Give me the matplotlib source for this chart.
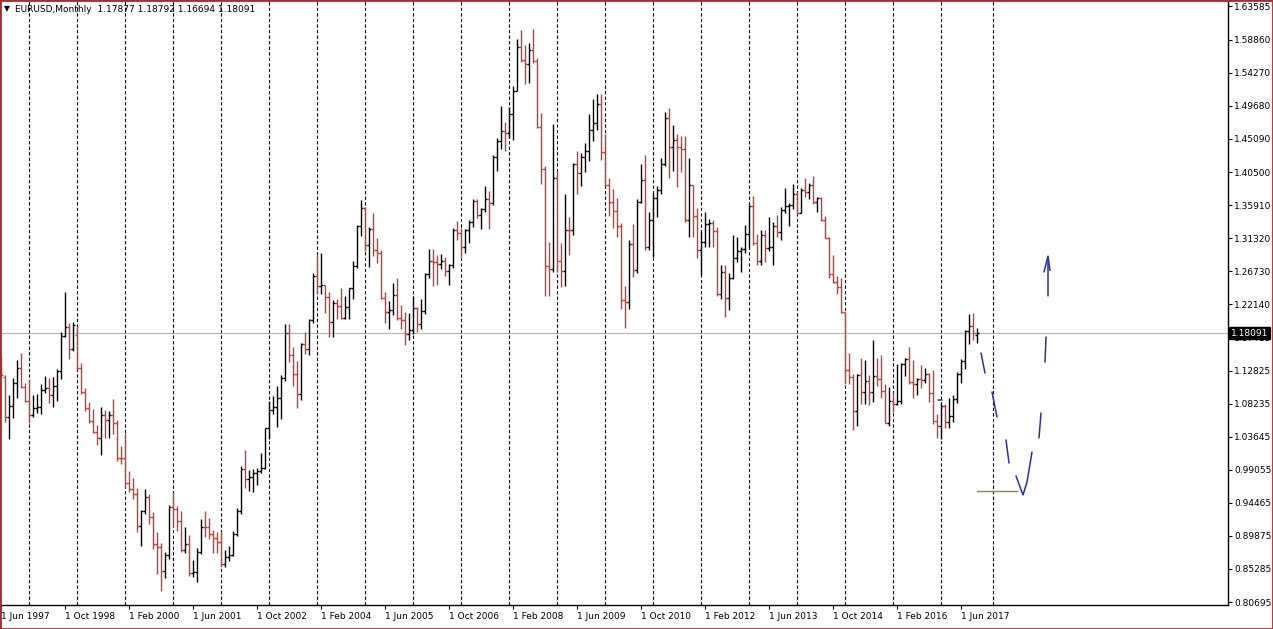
import numpy as np
import matplotlib
matplotlib.use('Agg')
import matplotlib.pyplot as plt
from matplotlib.collections import LineCollection
from matplotlib.patches import Rectangle

# EURUSD monthly bars, first bar = Jun 1997, last = Oct 2017 (partial)
bar_open = [
    1.1450, 1.1204, 1.0638, 1.0796, 1.1111, 1.1320, 1.1064,
    1.0870, 1.0670, 1.0763, 1.0777, 1.1018, 1.1040, 1.0949, 1.1074, 1.1287, 1.1769, 1.1890, 1.1584,
    1.1789, 1.1320, 1.0991, 1.0766, 1.0586, 1.0429, 1.0350, 1.0677, 1.0597, 1.0676, 1.0557, 1.0071,
    1.0070, 0.9724, 0.9645, 0.9574, 0.9120, 0.9335, 0.9523, 0.9255, 0.8883, 0.8828, 0.8494, 0.8722,
    0.9388, 0.9359, 0.9202, 0.8787, 0.8876, 0.8466, 0.8480, 0.8762, 0.9116, 0.9115, 0.9010, 0.8961,
    0.8901, 0.8598, 0.8697, 0.8721, 0.9016, 0.9338, 0.9914, 0.9774, 0.9808, 0.9862, 0.9887, 0.9930,
    1.0487, 1.0737, 1.0785, 1.0907, 1.1180, 1.1808, 1.1507, 1.1240, 1.0964, 1.1656, 1.1593, 1.1987,
    1.2597, 1.2470, 1.2478, 1.2316, 1.1965, 1.2222, 1.2191, 1.2025, 1.2176, 1.2436, 1.2749, 1.3298,
    1.3554, 1.3036, 1.3254, 1.2963, 1.2923, 1.2298, 1.2103, 1.2127, 1.2335, 1.2025, 1.1995, 1.1792,
    1.1849, 1.2154, 1.1933, 1.2117, 1.2625, 1.2811, 1.2793, 1.2764, 1.2811, 1.2668, 1.2762, 1.3242,
    1.3197, 1.3011, 1.3237, 1.3358, 1.3653, 1.3452, 1.3530, 1.3680, 1.3618, 1.4263, 1.4480, 1.4623,
    1.4590, 1.4862, 1.5176, 1.5792, 1.5609, 1.5548, 1.5751, 1.5598, 1.4670, 1.4085, 1.2740, 1.2697,
    1.3973, 1.2809, 1.2674, 1.3249, 1.3238, 1.4158, 1.4031, 1.4252, 1.4342, 1.4636, 1.4725, 1.4995,
    1.4326, 1.3867, 1.3627, 1.3509, 1.3293, 1.2270, 1.2238, 1.3048, 1.2683, 1.3632, 1.3942, 1.3003,
    1.3384, 1.3693, 1.3802, 1.4164, 1.4804, 1.4392, 1.4500, 1.4394, 1.4374, 1.3388, 1.3867, 1.3444,
    1.2961, 1.3081, 1.3324, 1.3340, 1.3234, 1.2357, 1.2663, 1.2302, 1.2576, 1.2858, 1.2955, 1.2986,
    1.3193, 1.3580, 1.3058, 1.2818, 1.3170, 1.2999, 1.3010, 1.3302, 1.3221, 1.3525, 1.3584, 1.3590,
    1.3743, 1.3486, 1.3802, 1.3772, 1.3870, 1.3634, 1.3691, 1.3389, 1.3131, 1.2628, 1.2525, 1.2452,
    1.2098, 1.1291, 1.1196, 1.0731, 1.1224, 1.0986, 1.1146, 1.0984, 1.1211, 1.1176, 1.1005, 1.0566,
    1.0862, 1.0830, 1.0872, 1.1380, 1.1452, 1.1131, 1.1105, 1.1175, 1.1158, 1.1241, 1.0980, 1.0588,
    1.0516, 1.0797, 1.0575, 1.0652, 1.0895, 1.1243, 1.1426, 1.1840, 1.1908, 1.17877,
]
bar_high = [
    1.1480, 1.1227, 1.0949, 1.1180, 1.1435, 1.1537, 1.1111,
    1.1166, 1.0949, 1.0962, 1.1102, 1.1213, 1.1180, 1.1204, 1.1306, 1.1829, 1.2386, 1.1945, 1.1969,
    1.1906, 1.1393, 1.1052, 1.0855, 1.0755, 1.0534, 1.0777, 1.0736, 1.0720, 1.0890, 1.0600, 1.0235,
    1.0414, 0.9895, 0.9788, 0.9656, 0.9348, 0.9647, 0.9570, 0.9326, 0.9050, 0.8890, 0.8758, 0.9420,
    0.9596, 0.9409, 0.9338, 0.9108, 0.8996, 0.8652, 0.8826, 0.9230, 0.9335, 0.9232, 0.9070, 0.9040,
    0.9051, 0.8799, 0.8850, 0.9053, 0.9375, 0.9957, 1.0185, 0.9900, 0.9920, 0.9930, 1.0140, 1.0496,
    1.0860, 1.0935, 1.1080, 1.1230, 1.1933, 1.1932, 1.1620, 1.1428, 1.1672, 1.1830, 1.2000, 1.2650,
    1.2900, 1.2930, 1.2480, 1.2375, 1.2275, 1.2285, 1.2440, 1.2330, 1.2440, 1.2810, 1.3310, 1.3666,
    1.3570, 1.3290, 1.3480, 1.3130, 1.2970, 1.2380, 1.2260, 1.2500, 1.2570, 1.2200, 1.2100, 1.2090,
    1.2330, 1.2170, 1.2290, 1.2640, 1.2980, 1.2980, 1.2890, 1.2910, 1.2870, 1.2770, 1.3270, 1.3370,
    1.3270, 1.3260, 1.3380, 1.3680, 1.3680, 1.3550, 1.3850, 1.3790, 1.4280, 1.4520, 1.4967, 1.4750,
    1.4960, 1.5240, 1.5905, 1.6019, 1.5820, 1.5840, 1.6038, 1.5630, 1.4870, 1.4130, 1.3080, 1.4720,
    1.4070, 1.3060, 1.3740, 1.3430, 1.4170, 1.4340, 1.4310, 1.4450, 1.4860, 1.5060, 1.5140, 1.5140,
    1.4580, 1.3970, 1.3820, 1.3690, 1.3340, 1.2460, 1.3110, 1.3330, 1.3680, 1.4160, 1.4280, 1.3500,
    1.3760, 1.3860, 1.4250, 1.4880, 1.4940, 1.4700, 1.4580, 1.4550, 1.4550, 1.4250, 1.3870, 1.3550,
    1.3230, 1.3490, 1.3390, 1.3380, 1.3280, 1.2750, 1.2750, 1.2640, 1.3170, 1.3140, 1.3010, 1.3310,
    1.3590, 1.3710, 1.3190, 1.3240, 1.3240, 1.3420, 1.3350, 1.3450, 1.3570, 1.3830, 1.3620, 1.3890,
    1.3775, 1.3830, 1.3970, 1.3900, 1.3995, 1.3700, 1.3700, 1.3440, 1.3140, 1.2890, 1.2600, 1.2570,
    1.2100, 1.1530, 1.1240, 1.1240, 1.1470, 1.1440, 1.1220, 1.1715, 1.1460, 1.1500, 1.1100, 1.1060,
    1.0990, 1.1380, 1.1400, 1.1460, 1.1620, 1.1430, 1.1190, 1.1370, 1.1330, 1.1260, 1.1300, 1.0680,
    1.0830, 1.0830, 1.0900, 1.0950, 1.1270, 1.1450, 1.1850, 1.2070, 1.2090, 1.18792,
]
bar_low = [
    1.1200, 1.0578, 1.0332, 1.0624, 1.0902, 1.1041, 1.0856,
    1.0555, 1.0647, 1.0703, 1.0684, 1.0972, 1.0842, 1.0777, 1.0870, 1.1166, 1.1760, 1.1445, 1.1565,
    1.1300, 1.0956, 1.0730, 1.0558, 1.0414, 1.0254, 1.0110, 1.0354, 1.0350, 1.0410, 1.0030, 0.9985,
    0.9671, 0.9595, 0.9506, 0.9050, 0.8843, 0.9300, 0.9155, 0.8813, 0.8457, 0.8228, 0.8403, 0.8670,
    0.9107, 0.9055, 0.8764, 0.8751, 0.8428, 0.8421, 0.8344, 0.8735, 0.8977, 0.8948, 0.8750, 0.8745,
    0.8577, 0.8562, 0.8640, 0.8710, 0.8985, 0.9300, 0.9662, 0.9610, 0.9606, 0.9690, 0.9865, 0.9915,
    1.0340, 1.0690, 1.0500, 1.0620, 1.1140, 1.1412, 1.1080, 1.0762, 1.0875, 1.1520, 1.1500, 1.1955,
    1.2370, 1.2350, 1.2085, 1.1758, 1.1760, 1.2005, 1.2005, 1.2010, 1.2000, 1.2280, 1.2720, 1.3160,
    1.2950, 1.2730, 1.2875, 1.2790, 1.2290, 1.1950, 1.1870, 1.2060, 1.1985, 1.1870, 1.1640, 1.1710,
    1.1800, 1.1830, 1.1860, 1.2070, 1.2570, 1.2460, 1.2480, 1.2700, 1.2610, 1.2480, 1.2710, 1.3100,
    1.2870, 1.2930, 1.3060, 1.3290, 1.3410, 1.3260, 1.3500, 1.3260, 1.3590, 1.4060, 1.4370, 1.4340,
    1.4520, 1.4500, 1.5170, 1.5580, 1.5280, 1.5290, 1.5560, 1.4660, 1.3880, 1.2330, 1.2330, 1.2660,
    1.2660, 1.2450, 1.2460, 1.2890, 1.3170, 1.3750, 1.3850, 1.4050, 1.4200, 1.4480, 1.4640, 1.4210,
    1.3860, 1.3440, 1.3270, 1.3150, 1.2150, 1.1876, 1.2150, 1.2590, 1.2650, 1.3620, 1.2970, 1.2970,
    1.2870, 1.3430, 1.3740, 1.4140, 1.3970, 1.4070, 1.3840, 1.4050, 1.3360, 1.3140, 1.3140, 1.2860,
    1.2620, 1.3000, 1.3000, 1.3000, 1.2330, 1.2280, 1.2040, 1.2130, 1.2560, 1.2800, 1.2660, 1.2930,
    1.3000, 1.3040, 1.2750, 1.2750, 1.2800, 1.2950, 1.2750, 1.3150, 1.3100, 1.3480, 1.3300, 1.3540,
    1.3470, 1.3480, 1.3700, 1.3670, 1.3600, 1.3500, 1.3370, 1.3130, 1.2570, 1.2500, 1.2360, 1.2090,
    1.1098, 1.1100, 1.0458, 1.0520, 1.0820, 1.0820, 1.0810, 1.0850, 1.1080, 1.0900, 1.0560, 1.0520,
    1.0710, 1.0810, 1.0820, 1.1210, 1.1100, 1.0910, 1.0950, 1.1050, 1.1120, 1.0850, 1.0550, 1.0350,
    1.0340, 1.0490, 1.0490, 1.0570, 1.0840, 1.1110, 1.1310, 1.1660, 1.1720, 1.16694,
]
bar_close = [
    1.1220, 1.0638, 1.0796, 1.1111, 1.1320, 1.1064, 1.0870,
    1.0670, 1.0763, 1.0777, 1.1018, 1.1040, 1.0949, 1.1074, 1.1287, 1.1769, 1.1890, 1.1584, 1.1922,
    1.1320, 1.0991, 1.0766, 1.0586, 1.0429, 1.0350, 1.0677, 1.0597, 1.0676, 1.0557, 1.0071, 1.0070,
    0.9724, 0.9645, 0.9574, 0.9120, 0.9335, 0.9523, 0.9255, 0.8883, 0.8828, 0.8494, 0.8722, 0.9388,
    0.9359, 0.9202, 0.8787, 0.8876, 0.8466, 0.8480, 0.8762, 0.9116, 0.9115, 0.9010, 0.8961, 0.8901,
    0.8598, 0.8697, 0.8721, 0.9016, 0.9338, 0.9914, 0.9774, 0.9808, 0.9862, 0.9887, 0.9930, 1.0487,
    1.0737, 1.0785, 1.0907, 1.1180, 1.1808, 1.1507, 1.1240, 1.0964, 1.1656, 1.1593, 1.1987, 1.2597,
    1.2470, 1.2478, 1.2316, 1.1965, 1.2222, 1.2191, 1.2025, 1.2176, 1.2436, 1.2749, 1.3298, 1.3554,
    1.3036, 1.3254, 1.2963, 1.2923, 1.2298, 1.2103, 1.2127, 1.2335, 1.2025, 1.1995, 1.1792, 1.1849,
    1.2154, 1.1933, 1.2117, 1.2625, 1.2811, 1.2793, 1.2764, 1.2811, 1.2668, 1.2762, 1.3242, 1.3197,
    1.3011, 1.3237, 1.3358, 1.3653, 1.3452, 1.3530, 1.3680, 1.3618, 1.4263, 1.4480, 1.4623, 1.4590,
    1.4862, 1.5176, 1.5792, 1.5609, 1.5548, 1.5751, 1.5598, 1.4670, 1.4085, 1.2740, 1.2697, 1.3973,
    1.2809, 1.2674, 1.3249, 1.3238, 1.4158, 1.4031, 1.4252, 1.4342, 1.4636, 1.4725, 1.4995, 1.4326,
    1.3867, 1.3627, 1.3509, 1.3293, 1.2270, 1.2238, 1.3048, 1.2683, 1.3632, 1.3942, 1.3003, 1.3384,
    1.3693, 1.3802, 1.4164, 1.4804, 1.4392, 1.4500, 1.4394, 1.4374, 1.3388, 1.3867, 1.3444, 1.2961,
    1.3081, 1.3324, 1.3340, 1.3234, 1.2357, 1.2663, 1.2302, 1.2576, 1.2858, 1.2955, 1.2986, 1.3193,
    1.3580, 1.3058, 1.2818, 1.3170, 1.2999, 1.3010, 1.3302, 1.3221, 1.3525, 1.3584, 1.3590, 1.3743,
    1.3486, 1.3802, 1.3772, 1.3870, 1.3634, 1.3691, 1.3389, 1.3131, 1.2628, 1.2525, 1.2452, 1.2098,
    1.1291, 1.1196, 1.0731, 1.1224, 1.0986, 1.1146, 1.0984, 1.1211, 1.1176, 1.1005, 1.0566, 1.0862,
    1.0830, 1.0872, 1.1380, 1.1452, 1.1131, 1.1105, 1.1175, 1.1158, 1.1241, 1.0980, 1.0588, 1.0516,
    1.0797, 1.0575, 1.0652, 1.0895, 1.1243, 1.1426, 1.1840, 1.1908, 1.1812, 1.18091,
]

# bottom axis labels, one every 16 bars starting at bar 0
date_labels = ['1 Jun 1997', '1 Oct 1998', '1 Feb 2000', '1 Jun 2001', '1 Oct 2002',
               '1 Feb 2004', '1 Jun 2005', '1 Oct 2006', '1 Feb 2008', '1 Jun 2009',
               '1 Oct 2010', '1 Feb 2012', '1 Jun 2013', '1 Oct 2014', '1 Feb 2016',
               '1 Jun 2017']
date_label_bars = [16 * k for k in range(len(date_labels))]

# yearly separators (bar index of each January)
year_sep_bars = [7 + 12 * k for k in range(20)] + [248]

price_ticks = [0.80695, 0.85285, 0.89875, 0.94465, 0.99055, 1.03645, 1.08235, 1.12825,
               1.17415, 1.22140, 1.26730, 1.31320, 1.35910, 1.40500, 1.45090, 1.49680,
               1.54270, 1.58860, 1.63585]
price_labels = ['%.5f' % v for v in price_ticks]

last_price = 1.18091
header = 'EURUSD,Monthly  1.17877 1.18792 1.16694 1.18091'

# hand drawn objects (bar index, price)
blue_strokes = [
    ([234.3, 235.3], [1.0880, 1.0880]),
    ([245.0, 246.0], [1.1533, 1.1254]),
    ([247.75, 249.0], [1.0990, 1.0642]),
    ([251.25, 252.0], [1.0323, 1.0003]),
    ([253.75, 255.5, 256.5, 257.75], [0.9822, 0.9558, 0.9738, 1.0156]),
    ([259.5, 260.0], [1.0351, 1.0698]),
    ([261.0, 261.25], [1.1407, 1.1755]),
    ([261.75, 261.75], [1.2325, 1.2854]),
    ([260.75, 261.75, 262.25], [1.2660, 1.2880, 1.2680]),
]
olive_x = [244.0, 254.0]
olive_y = [0.9613, 0.9613]

UP = 'black'
DOWN = '#d0392b'

W, H = 1273, 629
fig = plt.figure(figsize=(W / 100.0, H / 100.0), dpi=100)
fig.patch.set_facecolor('white')
ax = fig.add_axes([0, 24.0 / H, 1228.0 / W, 604.0 / H])
ax.set_xlim(-0.25, 306.75)
ax.set_ylim(0.80278, 1.64283)

o = np.array(bar_open)
c = np.array(bar_close)
hi = np.maximum.reduce([np.array(bar_high), o, c])
lo = np.minimum.reduce([np.array(bar_low), o, c])
idx = np.arange(len(o))

segs = []
cols = []
for i in idx:
    col = UP if c[i] >= o[i] else DOWN
    segs.append([(i, lo[i]), (i, hi[i])])
    segs.append([(i - 0.5, o[i]), (i, o[i])])
    segs.append([(i, c[i]), (i + 0.5, c[i])])
    cols += [col] * 3
ax.add_collection(LineCollection(segs, colors=cols, linewidths=1.0, zorder=3))

for xb in year_sep_bars:
    ax.axvline(xb, color='black', lw=0.8, ls=(0, (3, 2)), zorder=2)

ax.axhline(last_price, color='#b8b8b8', lw=0.9, zorder=1)

for xs, ys in blue_strokes:
    ax.plot(xs, ys, color='#27349a', lw=1.1, zorder=4, solid_capstyle='round')
ax.plot(olive_x, olive_y, color='#8c8c2a', lw=1.0, zorder=4)

# axes look
for s in ['left', 'top']:
    ax.spines[s].set_visible(False)
ax.spines['right'].set_color('black')
ax.spines['bottom'].set_color('black')
ax.spines['right'].set_linewidth(1.0)
ax.spines['bottom'].set_linewidth(1.0)

ax.yaxis.tick_right()
ax.set_yticks(price_ticks)
ax.set_yticklabels(price_labels)
ax.tick_params(axis='y', direction='out', length=3, width=0.8, pad=1.5, labelsize=6.5)

ax.set_xticks(date_label_bars)
ax.set_xticklabels(date_labels, ha='left')
ax.tick_params(axis='x', direction='out', length=3, width=0.8, pad=2, labelsize=6.5)

ax.annotate('%.5f' % last_price, xy=(1.0, last_price), xycoords=('axes fraction', 'data'),
            xytext=(2, 0), textcoords='offset points', va='center', ha='left',
            fontsize=6.5, color='white',
            bbox=dict(boxstyle='square,pad=0.18', fc='black', ec='black'), zorder=10,
            annotation_clip=False)

fig.text(4.0 / W, 1 - 9.0 / H, '\u25bc', fontsize=5.5, va='center', ha='left')
fig.text(15.0 / W, 1 - 9.0 / H, header, fontsize=6.5, va='center', ha='left')

fig.add_artist(Rectangle((0, 0), 1, 1, transform=fig.transFigure, fill=False,
                         ec='#b0282a', lw=2.0))

fig.savefig('out.png', dpi=100)
